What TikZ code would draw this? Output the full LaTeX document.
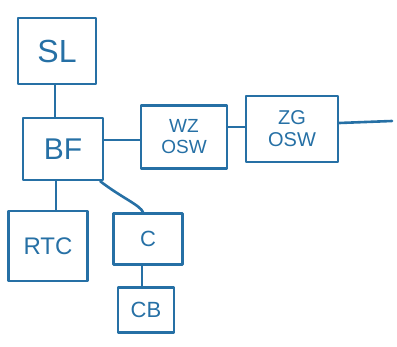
\documentclass[tikz,border=0pt]{standalone}
\usepackage{fontspec}
\setmainfont{Liberation Sans}
\definecolor{ink}{RGB}{38,112,165}
\begin{document}
\begin{tikzpicture}[x=1pt,y=-1pt,
  ink line/.style={draw=ink,line width=2.6pt,line cap=round,line join=round},
  box/.style={ink line,rectangle,inner sep=0pt,text=ink,align=center},
  wire/.style={ink line}]
\useasboundingbox (0,0) rectangle (397,347);
% blocks
\node[box,minimum width=78,minimum height=66,font=\fontsize{32}{32}\selectfont] (sl) at (57,51) {SL};
\node[box,minimum width=80,minimum height=62,font=\fontsize{30}{30}\selectfont] (bf) at (63,149) {BF};
\node[box,minimum width=86,minimum height=63,font=\fontsize{19}{21}\selectfont] (wz) at (184,137) {WZ\\OSW};
\node[box,minimum width=92,minimum height=66,font=\fontsize{20}{22}\selectfont] (zg) at (292,129) {ZG\\OSW};
\node[box,minimum width=79,minimum height=70,font=\fontsize{24}{24}\selectfont] (rtc) at (48,246) {RTC};
\node[box,minimum width=69,minimum height=51,font=\fontsize{22}{22}\selectfont] (c) at (148,239) {C};
\node[box,minimum width=56,minimum height=45,font=\fontsize{22}{22}\selectfont] (cb) at (146,310) {CB};
\coordinate (out) at (392,121);
% connections
\draw[wire] (sl.south -| 55,0) -- (bf.north -| 55,0);
\draw[wire] (bf.east |- 0,140) -- (wz.west |- 0,140);
\draw[wire] (wz.east |- 0,127) -- (zg.west |- 0,127);
\draw[wire] (zg.east |- 0,123) -- (out);
\draw[wire] (bf.south -| 56,0) -- (rtc.north -| 56,0);
\draw[wire] (bf.south east) ++(-4,0) .. controls (122,198) and (140,205) .. (c.north -| 143,0);
\draw[wire] (c.south -| 142,0) -- (cb.north -| 142,0);
\end{tikzpicture}
\end{document}
